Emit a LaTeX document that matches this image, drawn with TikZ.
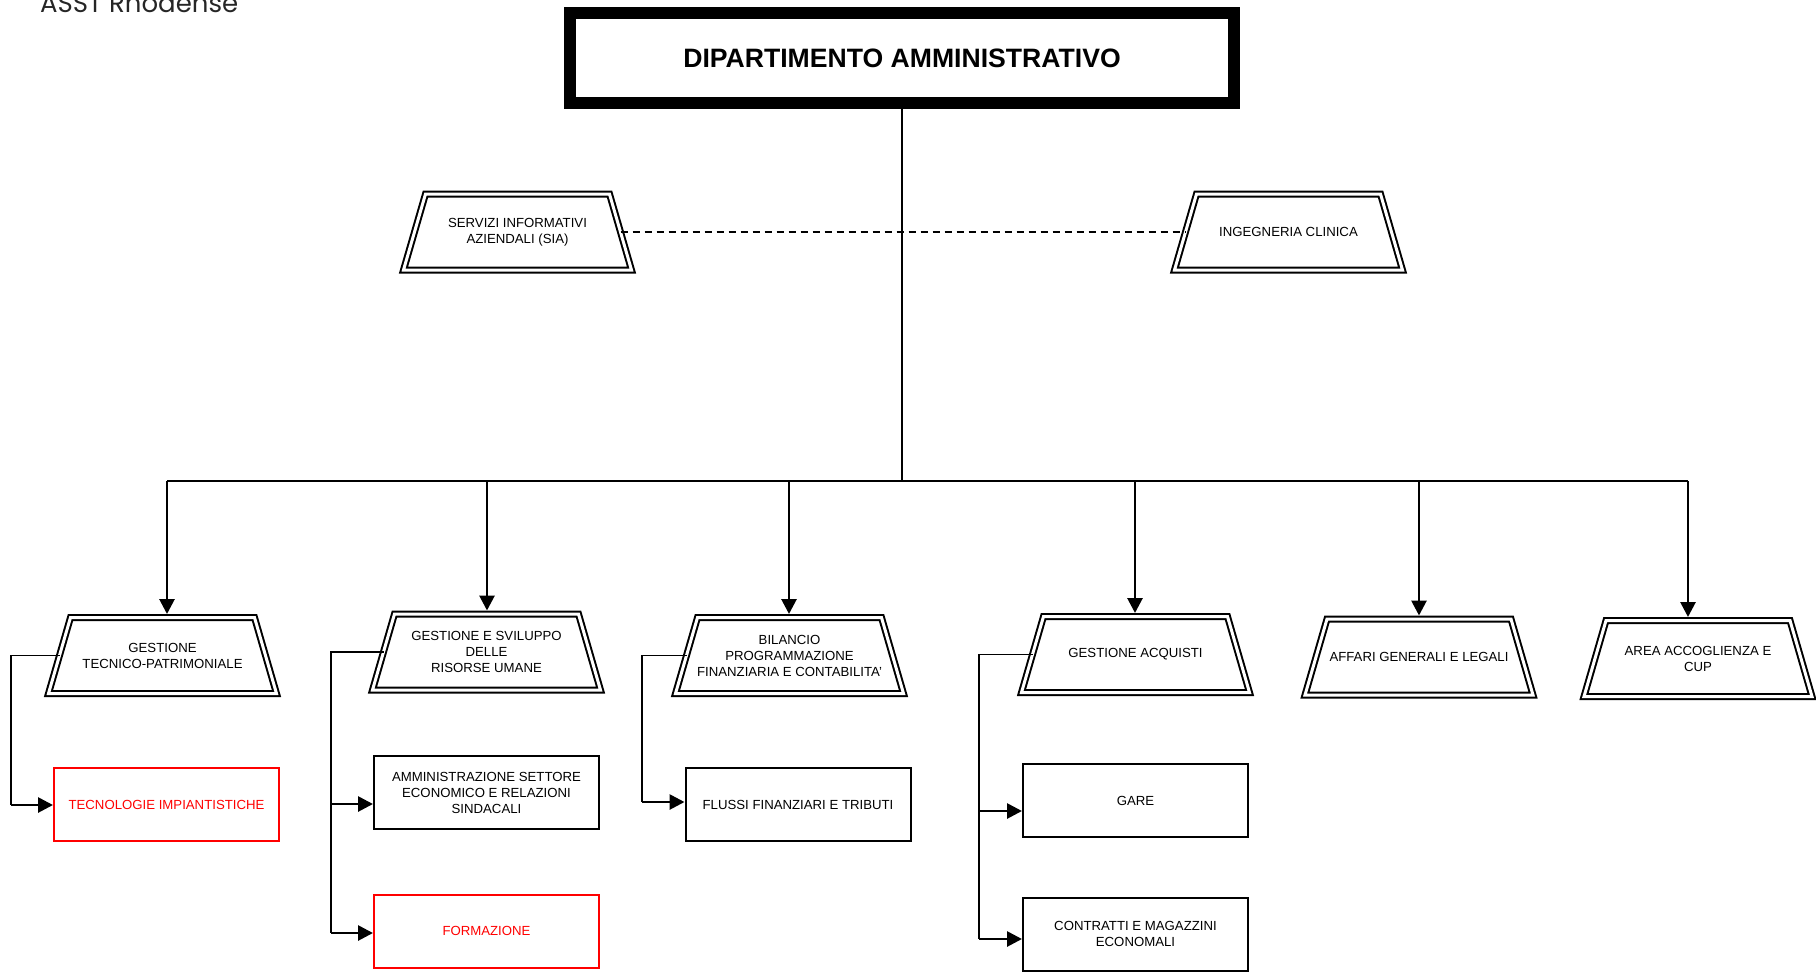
\documentclass[tikz,border=0pt]{standalone}
\usepackage{fontspec}
\setmainfont{Liberation Sans}
\newfontfamily\logofont{Poppins}
\usetikzlibrary{arrows.meta}
\begin{document}
\begin{tikzpicture}[x=0.5pt,y=-0.5pt,
    unit/.style={minimum width=114pt,minimum height=38pt,inner sep=0pt,outer sep=0pt,
      align=center,font=\fontsize{6.6}{8}\selectfont},
    frame/.style={draw,line width=1pt,double,double distance=1.5pt},
    office/.style={draw,line width=1pt,minimum width=112.5pt,minimum height=36.5pt,
      inner sep=1pt,align=center,font=\fontsize{6.6}{8}\selectfont},
    newoffice/.style={office,draw=red,text=red},
    feed/.style={line width=1.4pt,-{Triangle[length=7.5pt,width=7.5pt]}},
    down/.style={feed,shorten >=1.75pt},
    link/.style={line width=0.6pt},
    stafflink/.style={line width=0.8pt,dash pattern=on 3.5pt off 2.5pt}]
  \useasboundingbox (0,0) rectangle (1816,971);
  \node[anchor=base west,text=black!85,font=\logofont\fontsize{13}{15}\selectfont]
    (asst) at (33,12) {ASST Rhodense};
  \node[draw,line width=6pt,minimum width=332pt,minimum height=45pt,
    font=\fontsize{13.3}{15}\selectfont\bfseries] (dip) at (902,58) {DIPARTIMENTO AMMINISTRATIVO};
  % staff
  \node[unit] (sia) at (517.5,232) {SERVIZI INFORMATIVI\\AZIENDALI (SIA)};
  \node[unit] (ing) at (1288.5,232) {INGEGNERIA CLINICA};
  % strutture
  \node[unit] (t1) at (162.5,655.5) {GESTIONE\\TECNICO-PATRIMONIALE};
  \node[unit] (t2) at (486.5,652) {GESTIONE E SVILUPPO\\DELLE\\RISORSE UMANE};
  \node[unit] (t3) at (789.5,655.5) {BILANCIO\\PROGRAMMAZIONE\\FINANZIARIA E CONTABILITA'};
  \node[unit] (t4) at (1135.5,654.5) {GESTIONE ACQUISTI};
  \node[unit] (t5) at (1419,657) {AFFARI GENERALI E LEGALI};
  \node[unit] (t6) at (1698,658.5) {AREA ACCOGLIENZA E\\CUP};
  \foreach \n in {sia,ing,t1,t2,t3,t4,t5,t6}
    \draw[frame] ([xshift=11pt]\n.north west) -- ([xshift=-11pt]\n.north east)
      -- (\n.south east) -- (\n.south west) -- cycle;
  % uffici
  \node[newoffice] (b1) at (166.5,804.5) {TECNOLOGIE IMPIANTISTICHE};
  \node[office] (b2) at (486.5,792.5) {AMMINISTRAZIONE SETTORE\\ECONOMICO E RELAZIONI\\SINDACALI};
  \node[newoffice] (b3) at (486.5,931) {FORMAZIONE};
  \node[office] (b4) at (798,804.5) {FLUSSI FINANZIARI E TRIBUTI};
  \node[office] (b5) at (1135.5,800.5) {GARE};
  \node[office] (b6) at (1135.5,934) {CONTRATTI E MAGAZZINI\\ECONOMALI};
  \coordinate (bus) at (902,481);
  \coordinate (j1) at (167,481);
  \coordinate (j2) at (487,481);
  \coordinate (j3) at (789,481);
  \coordinate (j4) at (1135,481);
  \coordinate (j5) at (1419,481);
  \coordinate (j6) at (1688,481);
  \coordinate (k1) at (11,805);
  \coordinate (k2) at (331,804);
  \coordinate (k3) at (331,933);
  \coordinate (k4) at (642,802);
  \coordinate (k5) at (979,811);
  \coordinate (k6) at (979,939);
  \begin{scope}[link]
    \draw (dip.south) -- (bus);
    \draw (j1) -- (j6);
    \draw ([xshift=5.5pt]t1.west) -| (k1);
    \draw ([xshift=5.5pt]t2.west) -| (k3);
    \draw ([xshift=5.5pt]t3.west) -| (k4);
    \draw ([xshift=5.5pt]t4.west) -| (k6);
  \end{scope}
  \begin{scope}[stafflink]
    \draw[line width=1.2pt] (dip.south) -- (dip.south |- sia.east);
    \draw ([xshift=-5.5pt]sia.east) -- ([xshift=5.5pt]ing.west);
  \end{scope}
  \begin{scope}[down]
    \draw (j1) -- (j1 |- t1.north);
    \draw (j2) -- (j2 |- t2.north);
    \draw (j3) -- (j3 |- t3.north);
    \draw (j4) -- (j4 |- t4.north);
    \draw (j5) -- (j5 |- t5.north);
    \draw (j6) -- (j6 |- t6.north);
  \end{scope}
  \begin{scope}[feed]
    \draw (k1) -- (k1 -| b1.west);
    \draw (k2) -- (k2 -| b2.west);
    \draw (k3) -- (k3 -| b3.west);
    \draw (k4) -- (k4 -| b4.west);
    \draw (k5) -- (k5 -| b5.west);
    \draw (k6) -- (k6 -| b6.west);
  \end{scope}
\end{tikzpicture}
\end{document}
